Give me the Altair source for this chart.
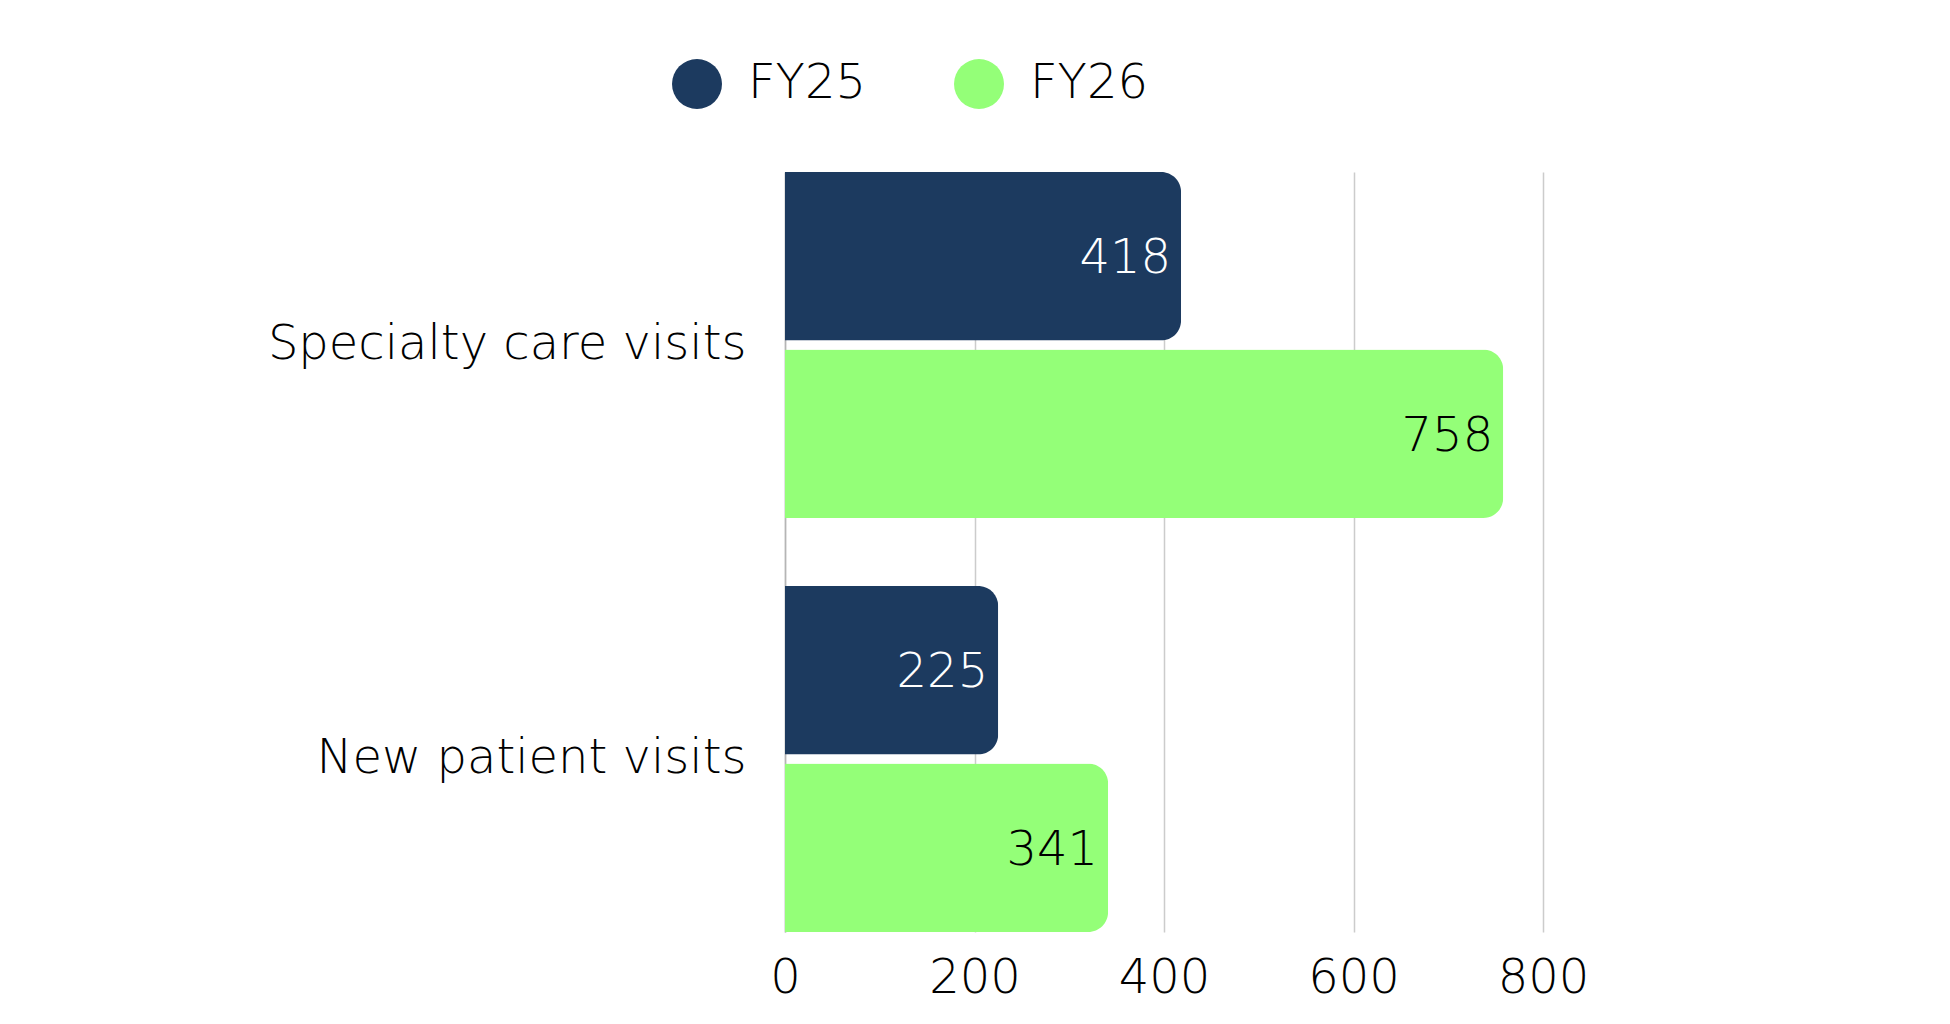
import altair as alt
import pandas as pd

categories = ["Specialty care visits", "New patient visits"]
series = ["FY25", "FY26"]
fy25 = [418, 225]
fy26 = [758, 341]
x_ticks = [0, 200, 400, 600, 800]
colors = ["#1C3A5F", "#94FF78"]

rows = []
for i, c in enumerate(categories):
    rows.append({"category": c, "series": "FY25", "value": fy25[i]})
    rows.append({"category": c, "series": "FY26", "value": fy26[i]})
df = pd.DataFrame(rows)

FONT = "DejaVu Sans"
FW = 300
FS = 48

y_enc = alt.Y(
    "category:N",
    sort=categories,
    scale=alt.Scale(paddingInner=0.164, paddingOuter=0),
    axis=alt.Axis(
        title=None, ticks=False, domain=True, domainColor="#b5b5b5", domainWidth=1.5,
        labelFontSize=FS, labelFont=FONT, labelFontWeight=FW, labelColor="#000000",
        labelPadding=39, labelLimit=1000,
    ),
)
yoff = alt.YOffset("series:N", sort=series, scale=alt.Scale(paddingInner=0.05, paddingOuter=0))
x_enc = alt.X(
    "value:Q",
    scale=alt.Scale(domain=[0, 800], nice=False),
    axis=alt.Axis(
        title=None, values=x_ticks, ticks=False, domain=False, grid=True,
        gridColor="#cccccc", gridWidth=1.5, labelFontSize=FS, labelFont=FONT,
        labelFontWeight=FW, labelColor="#000000", labelPadding=22,
        labelFlush=False, labelOverlap=False,
    ),
)

bars = alt.Chart(df).mark_bar(cornerRadiusEnd=20).encode(
    y=y_enc,
    yOffset=yoff,
    x=x_enc,
    color=alt.Color(
        "series:N",
        sort=series,
        scale=alt.Scale(domain=series, range=colors),
        legend=alt.Legend(
            title=None, orient="none", legendX=-113, legendY=-113,
            direction="horizontal", symbolType="circle", symbolSize=2500,
            symbolStrokeWidth=0, symbolOpacity=1, labelFontSize=FS,
            labelFont=FONT, labelFontWeight=FW, labelColor="#000000",
            labelOffset=26, columnPadding=87, padding=0,
        ),
    ),
)

labels = alt.Chart(df).mark_text(
    align="right", baseline="middle", dx=-10, dy=3, fontSize=FS, font=FONT, fontWeight=FW
).encode(
    y=alt.Y("category:N", sort=categories),
    yOffset=alt.YOffset("series:N", sort=series),
    x=alt.X("value:Q"),
    text=alt.Text("value:Q"),
    color=alt.condition(alt.datum.series == "FY25", alt.value("#ffffff"), alt.value("#000000")),
)

chart = alt.layer(bars, labels).properties(
    width=758, height=760,
    autosize="none",
    padding={"left": 777, "top": 164, "right": 150, "bottom": 80},
).configure_view(stroke=None)

chart.save("out.html", embed_options={"renderer": "svg", "actions": False})
